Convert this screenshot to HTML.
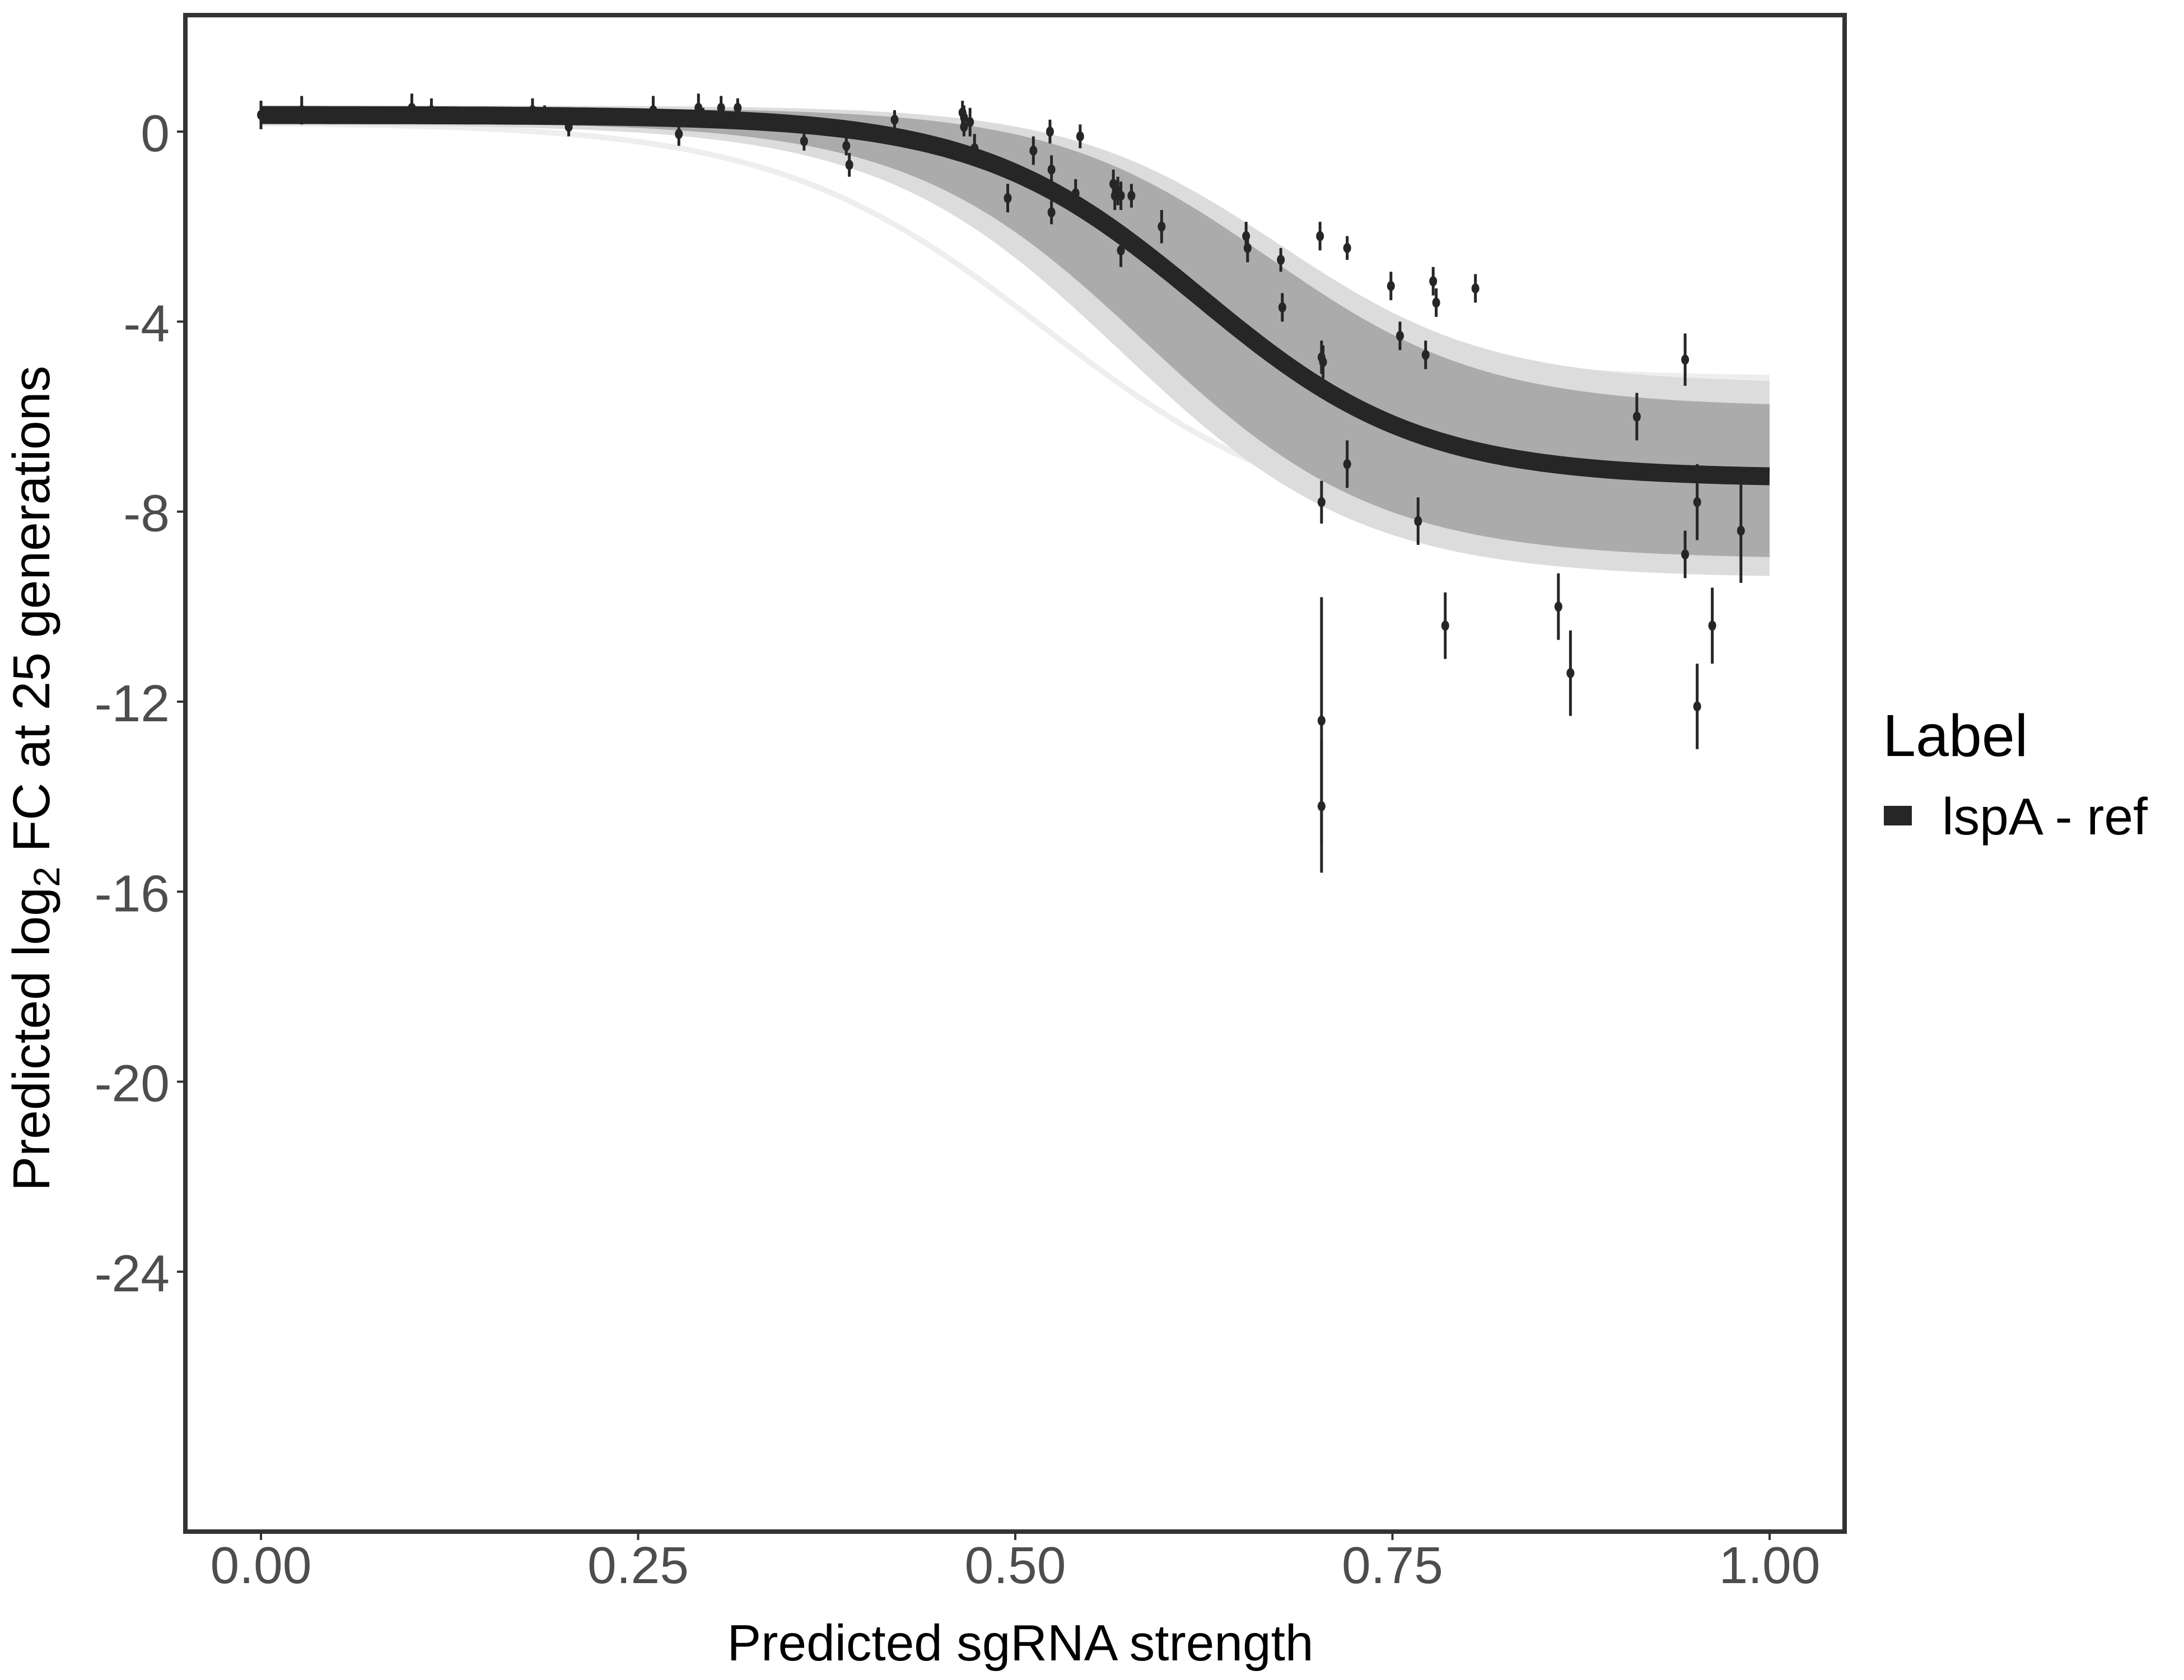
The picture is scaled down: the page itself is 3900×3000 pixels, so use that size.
<!DOCTYPE html>
<html><head><meta charset="utf-8"><style>
html,body{margin:0;padding:0;background:#fff;}
svg{display:block;font-family:"Liberation Sans",Arial,sans-serif;}
</style></head><body>
<svg id="chart" width="3900" height="3000" viewBox="0 0 3900 3000" xmlns="http://www.w3.org/2000/svg">
<rect x="0" y="0" width="3900" height="3000" fill="#fff"/>
<g id="band"></g>
<g id="fit"></g>
<g id="pts"></g>
<g id="axes"></g>
<rect x="331" y="27" width="2963" height="2708" fill="none" stroke="#333" stroke-width="8"/>
<text x="1822" y="2965" font-size="91" text-anchor="middle" fill="#000">Predicted sgRNA strength</text>
<text transform="translate(88,1390) rotate(-90)" font-size="93" text-anchor="middle" fill="#000">Predicted  log<tspan font-size="66" dy="18">2</tspan><tspan dy="-18"> FC at 25 generations</tspan></text>
<text x="3362" y="1350" font-size="106" fill="#000">Label</text>
<rect x="3364" y="1439" width="50" height="35" fill="#262626"/>
<text x="3468" y="1490" font-size="93" fill="#000">lspA - ref</text>
</svg>
<script>
const xTicks = [0, 0.25, 0.5, 0.75, 1.0];
const xTickLabels = ["0.00", "0.25", "0.50", "0.75", "1.00"];
const yTicks = [0, -4, -8, -12, -16, -20, -24];
const yTickLabels = ["0", "-4", "-8", "-12", "-16", "-20", "-24"];
const ptX = [0.0,0.027,0.1,0.113,0.18,0.188,0.204,0.26,0.277,0.29,0.293,0.305,0.316,0.36,0.388,0.39,0.42,0.465,0.466,0.466,0.47,0.473,0.495,0.512,0.523,0.524,0.524,0.54,0.543,0.565,0.566,0.568,0.57,0.577,0.57,0.597,0.653,0.654,0.676,0.677,0.702,0.703,0.704,0.703,0.72,0.72,0.703,0.703,0.749,0.755,0.767,0.772,0.777,0.779,0.785,0.805,0.86,0.868,0.912,0.944,0.944,0.952,0.952,0.962,0.981];
const ptY = [0.35,0.45,0.5,0.45,0.45,0.35,0.1,0.45,-0.05,0.5,0.3,0.5,0.5,-0.2,-0.3,-0.7,0.25,0.4,0.3,0.1,0.2,-0.35,-1.4,-0.4,0.0,-0.8,-1.7,-1.3,-0.1,-1.1,-1.35,-1.25,-1.35,-1.35,-2.5,-2.0,-2.2,-2.45,-2.7,-3.7,-2.2,-4.75,-4.85,-7.8,-2.45,-7.0,-12.4,-14.2,-3.25,-4.3,-8.2,-4.7,-3.15,-3.6,-10.4,-3.3,-10.0,-11.4,-6.0,-4.8,-8.9,-7.8,-12.1,-10.4,-8.4];
const ptErr = [0.3,0.3,0.3,0.25,0.25,0.2,0.2,0.3,0.25,0.3,0.2,0.25,0.2,0.2,0.2,0.25,0.2,0.25,0.25,0.2,0.3,0.3,0.3,0.3,0.25,0.3,0.25,0.3,0.25,0.3,0.3,0.3,0.3,0.25,0.35,0.35,0.3,0.3,0.25,0.3,0.3,0.35,0.35,0.45,0.25,0.5,2.6,1.4,0.3,0.3,0.5,0.3,0.3,0.3,0.7,0.3,0.7,0.9,0.5,0.55,0.5,0.8,0.9,0.8,1.1];
// sigmoid params: [top, bottom, midpoint, scale]
const fitParams = [0.35, -7.3, 0.622, 0.0733];
const bandUpper = [0.5, -5.8, 0.668, 0.072];
const bandLower = [0.2, -9.0, 0.585, 0.078];
const outerUpper = [0.55, -5.3, 0.675, 0.07];
const outerLower = [0.15, -9.4, 0.57, 0.08];
const faintLines = [[0.35,-5.2,0.62,0.07],[0.2,-8.5,0.52,0.09]];

const X0=466, X1=3160, Y0=235, YU=84.83;
const sx = v => X0 + v*(X1-X0);
const sy = v => Y0 - v*YU;
const sig = (p,x) => p[0] + (p[1]-p[0])/(1+Math.exp(-(x-p[2])/p[3]));
const NS="http://www.w3.org/2000/svg";
function mk(tag, attrs, parent){const e=document.createElementNS(NS,tag);for(const k in attrs)e.setAttribute(k,attrs[k]);parent.appendChild(e);return e;}
function curve(p){let d="";for(let i=0;i<=200;i++){const x=i/200;d+=(i?"L":"M")+sx(x).toFixed(1)+","+sy(sig(p,x)).toFixed(1);}return d;}
function area(u,l){let d="";
for(let i=0;i<=200;i++){const x=i/200;d+=(i?"L":"M")+sx(x).toFixed(1)+","+sy(sig(u,x)).toFixed(1);}
for(let i=200;i>=0;i--){const x=i/200;d+="L"+sx(x).toFixed(1)+","+sy(sig(l,x)).toFixed(1);}
return d+"Z";}

const band=document.getElementById('band');
faintLines.forEach(p=>{const l=mk('path',{d:curve(p),fill:"none",stroke:"#eeeeee","stroke-width":10},band);

});
const op=mk('path',{d:area(outerUpper,outerLower),fill:"#dcdcdc"},band);


const bp=mk('path',{d:area(bandUpper,bandLower),fill:"#ababab"},band);



const fit=document.getElementById('fit');
const fl=mk('path',{d:curve(fitParams),fill:"none",stroke:"#262626","stroke-width":32},fit);



const pts=document.getElementById('pts');
ptX.forEach((x,i)=>{
  const e=mk('line',{x1:sx(x),x2:sx(x),y1:sy(ptY[i]+ptErr[i]),y2:sy(ptY[i]-ptErr[i]),stroke:"#262626","stroke-width":5},pts);
  
  
  const c=mk('ellipse',{cx:sx(x),cy:sy(ptY[i]),rx:7,ry:9,fill:"#262626"},pts);
  
  
});

const axes=document.getElementById('axes');
xTicks.forEach((v,i)=>{
  const t=mk('line',{x1:sx(v),x2:sx(v),y1:2739,y2:2750,stroke:"#333","stroke-width":4},axes);
  
  
  const l=mk('text',{x:sx(v),y:2827,"font-size":93,"text-anchor":"middle",fill:"#4d4d4d"},axes);
  l.textContent=xTickLabels[i];
  
  
});
yTicks.forEach((v,i)=>{
  const t=mk('line',{x1:316,x2:327,y1:sy(v),y2:sy(v),stroke:"#333","stroke-width":4},axes);
  
  
  const l=mk('text',{x:303,y:sy(v)+35,"font-size":93,"text-anchor":"end",fill:"#4d4d4d"},axes);
  l.textContent=yTickLabels[i];
  
  
});
</script>
</body></html>
